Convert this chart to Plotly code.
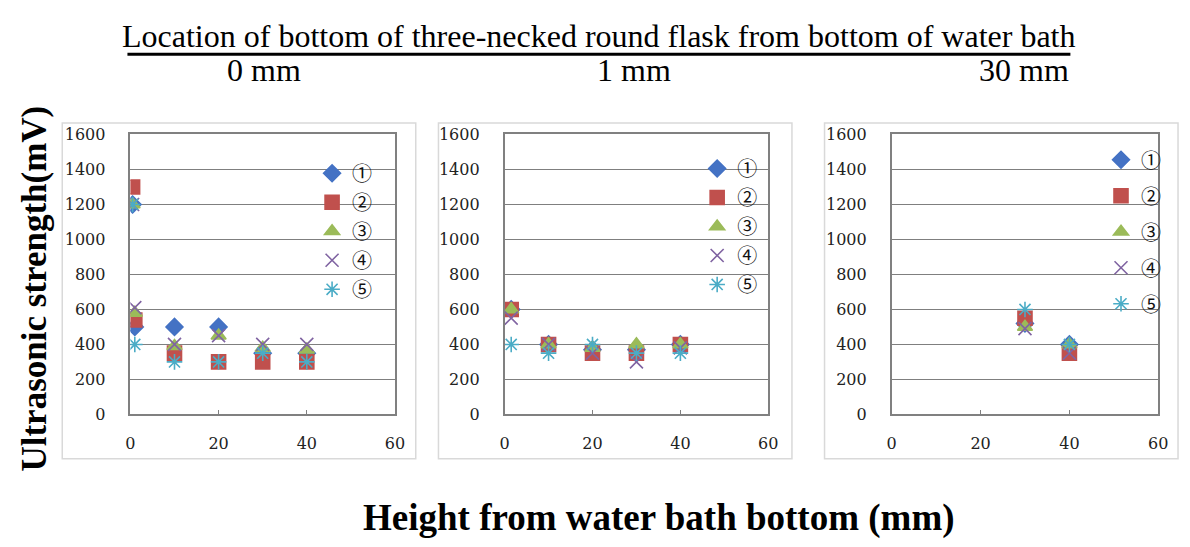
import plotly.graph_objects as go

W, H = 1190, 547

# ---------------- data ----------------
series_names = ["①", "②", "③", "④", "⑤"]
panel_titles = ["0 mm", "1 mm", "30 mm"]
main_title = "Location of bottom of three-necked round flask from bottom of water bath"
y_title = "Ultrasonic strength(mV)"
x_title = "Height from water bath bottom (mm)"

# Panel 1 : flask bottom at 0 mm
p1_x = [0.5, 1, 10, 20, 30, 40]
p1_s1 = [1200, 500, 500, 500, 350, 350]
p1_s2 = [1300, 540, 350, 300, 300, 300]
p1_s3 = [1200, 580, 390, 450, 380, 370]
p1_s4 = [1200, 610, 400, 450, 400, 400]
p1_s5 = [1200, 400, 300, 300, 350, 300]

# Panel 2 : flask bottom at 1 mm
p2_x = [1.5, 10, 20, 30, 40]
p2_s1 = [600, 400, 370, 370, 400]
p2_s2 = [600, 400, 350, 350, 400]
p2_s3 = [600, 400, 380, 400, 400]
p2_s4 = [550, 400, 350, 300, 380]
p2_s5 = [400, 350, 400, 350, 350]

# Panel 3 : flask bottom at 30 mm
p3_x = [30, 40]
p3_s1 = [520, 400]
p3_s2 = [550, 350]
p3_s3 = [500, 400]
p3_s4 = [490, 350]
p3_s5 = [600, 400]

panels = [
    (p1_x, [p1_s1, p1_s2, p1_s3, p1_s4, p1_s5]),
    (p2_x, [p2_s1, p2_s2, p2_s3, p2_s4, p2_s5]),
    (p3_x, [p3_s1, p3_s2, p3_s3, p3_s4, p3_s5]),
]

# ---------------- style ----------------
colors = ["#4472C4", "#C0504D", "#9BBB59", "#8064A2", "#4BACC6"]
symbols = ["diamond", "square", "triangle-up", "x-thin-open", "asterisk-open"]
sizes = [13, 14, 13, 13, 13]

# plot-area pixel boxes (left, right, top, bottom)
plot_px = [(127, 395, 130, 420), (506, 773, 130, 420), (898, 1168, 130, 420)]
# chart-area boxes
box_px = [(58, 416, 118, 466), (439, 797, 118, 466), (830, 1188, 118, 466)]
# legend positions (left px, top px, gap)
legend_px = [(311, 150, 0), (701, 145, 0), (1110, 136, 7)]

tick_font = dict(family="DejaVu Serif", size=16, color="#222222")

fig = go.Figure()
layout = {}
for pi, (xs, ys_list) in enumerate(panels):
    ax = "" if pi == 0 else str(pi + 1)
    lg = "legend" if pi == 0 else f"legend{pi + 1}"
    for si, ys in enumerate(ys_list):
        fig.add_trace(go.Scatter(
            x=xs, y=ys, mode="markers", name=series_names[si],
            xaxis="x" + ax, yaxis="y" + ax, legend=lg,
            legendgroup=f"p{pi}s{si}",
            marker=dict(symbol=symbols[si], color=colors[si], size=sizes[si],
                        line=dict(color=colors[si], width=1.6)),
        ))
    l, r, t, b = plot_px[pi]
    layout["xaxis" + ax] = dict(
        domain=[l / W, r / W], range=[0, 60], dtick=20, anchor="y" + ax,
        showgrid=False, zeroline=False, showline=True, mirror=True,
        linecolor="#808080", linewidth=1.5, ticks="inside", ticklen=5,
        tickcolor="#808080", tickfont=tick_font, ticklabelstandoff=14,
    )
    layout["yaxis" + ax] = dict(
        domain=[1 - b / H, 1 - t / H], range=[0, 1600], dtick=200, anchor="x" + ax,
        showgrid=True, gridcolor="#7f7f7f", gridwidth=1.2, zeroline=False,
        showline=True, mirror=True, linecolor="#808080", linewidth=1.5,
        ticks="", tickfont=tick_font, ticklabelstandoff=20,
    )
    lx, ly, gap = legend_px[pi]
    layout[lg] = dict(
        x=lx / W, y=1 - ly / H, xanchor="left", yanchor="top",
        bgcolor="rgba(0,0,0,0)", borderwidth=0, tracegroupgap=gap,
        font=dict(family="Noto Sans CJK JP", size=20, color="#111111"),
        itemwidth=30, itemsizing="trace",
    )

shapes = []
for (l, r, t, b) in box_px:
    shapes.append(dict(type="rect", xref="paper", yref="paper",
                       x0=l / W, x1=r / W, y0=1 - b / H, y1=1 - t / H,
                       line=dict(color="#d9d9d9", width=1.5), fillcolor="rgba(0,0,0,0)"))
shapes.append(dict(type="line", xref="paper", yref="paper",
                   x0=124 / W, x1=1079 / W, y0=1 - 47 / H, y1=1 - 47 / H,
                   line=dict(color="#000000", width=3)))

big_font = dict(family="Liberation Serif", size=32, color="#000000")
annotations = [
    dict(text=main_title, x=601 / W, y=1 - 28 / H, xref="paper", yref="paper",
         showarrow=False, xanchor="center", yanchor="middle", font=big_font),
    dict(text=panel_titles[0], x=262 / W, y=1 - 63 / H, xref="paper", yref="paper",
         showarrow=False, xanchor="center", yanchor="middle", font=big_font),
    dict(text=panel_titles[1], x=637 / W, y=1 - 63 / H, xref="paper", yref="paper",
         showarrow=False, xanchor="center", yanchor="middle", font=big_font),
    dict(text=panel_titles[2], x=1080 / W, y=1 - 63 / H, xref="paper", yref="paper",
         showarrow=False, xanchor="right", yanchor="middle", font=big_font),
    dict(text="<b>" + y_title + "</b>", x=30 / W, y=1 - 290 / H, xref="paper", yref="paper",
         showarrow=False, xanchor="center", yanchor="middle", textangle=-90,
         font=dict(family="Liberation Serif", size=35, color="#000000")),
    dict(text="<b>" + x_title + "</b>", x=662 / W, y=1 - 527 / H, xref="paper", yref="paper",
         showarrow=False, xanchor="center", yanchor="middle",
         font=dict(family="Liberation Serif", size=37, color="#000000")),
]

fig.update_layout(
    width=W, height=H, margin=dict(l=0, r=0, t=0, b=0),
    paper_bgcolor="white", plot_bgcolor="white",
    showlegend=True, shapes=shapes, annotations=annotations, **layout,
)

fig.write_html(
    "out.html",
    config={"displayModeBar": False},
    post_script=(
        "document.documentElement.style.margin='0px';"
        "document.documentElement.style.overflow='hidden';"
        "document.body.style.margin='0px';"
        "document.body.style.overflow='hidden';"
    ),
)
